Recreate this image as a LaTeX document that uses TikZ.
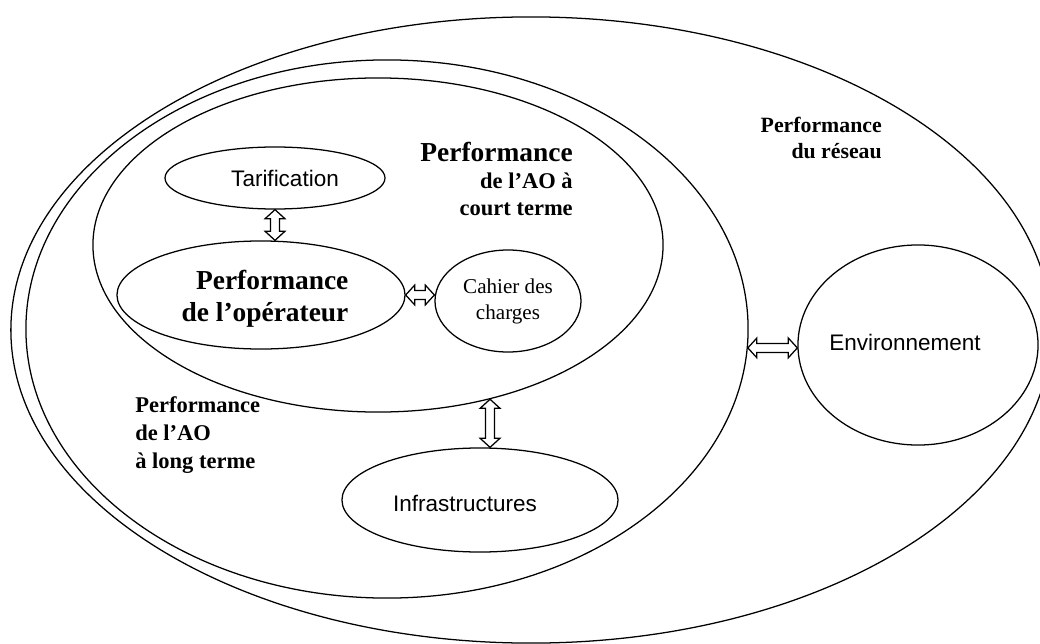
\documentclass[tikz,border=0pt]{standalone}
\usepackage{fontspec}
\setmainfont{Liberation Serif}
\newfontfamily\arialfont{Liberation Sans}
\usetikzlibrary{shapes.geometric,calc}
\newcommand{\arrhw}{7pt}
\newcommand{\arrsw}{3.2pt}
\newcommand{\arrhl}{6.4pt}
\tikzstyle{elli}=[ellipse, draw=black, line width=0.9pt, inner sep=0pt]
\tikzstyle{titre}=[font=\bfseries\fontsize{16}{19}\selectfont, inner sep=0pt]
\tikzstyle{sanslbl}=[font=\arialfont\fontsize{16}{19}\selectfont, inner sep=0pt]
\tikzstyle{seriflbl}=[font=\fontsize{15}{18.5}\selectfont, align=center, inner sep=0pt]
\tikzstyle{vblock}=[draw=black, fill=white, line width=0.9pt, to path={let \p1=(\tikztostart), \p2=(\tikztotarget) in
  (\x1,\y1) -- (\x1+\arrhw,\y1-\arrhl) -- (\x1+\arrsw,\y1-\arrhl) -- (\x1+\arrsw,\y2+\arrhl) -- (\x1+\arrhw,\y2+\arrhl) -- (\x1,\y2)
  -- (\x1-\arrhw,\y2+\arrhl) -- (\x1-\arrsw,\y2+\arrhl) -- (\x1-\arrsw,\y1-\arrhl) -- (\x1-\arrhw,\y1-\arrhl) -- cycle}]
\tikzstyle{hblock}=[draw=black, fill=white, line width=0.9pt, to path={let \p1=(\tikztostart), \p2=(\tikztotarget) in
  (\x1,\y1) -- (\x1+\arrhl,\y1+\arrhw) -- (\x1+\arrhl,\y1+\arrsw) -- (\x2-\arrhl,\y1+\arrsw) -- (\x2-\arrhl,\y1+\arrhw) -- (\x2,\y1)
  -- (\x2-\arrhl,\y1-\arrhw) -- (\x2-\arrhl,\y1-\arrsw) -- (\x1+\arrhl,\y1-\arrsw) -- (\x1+\arrhl,\y1-\arrhw) -- cycle}]

\begin{document}
\begin{tikzpicture}[x=0.025cm, y=-0.025cm]
\useasboundingbox (0,0) rectangle (1040,644);
% les ellipses
\node[elli, minimum width=26cm, minimum height=15.65cm] (reseau) at (531,330) {};
\node[elli, minimum width=18.05cm, minimum height=13.45cm] (longterme) at (387,329) {};
\node[elli, minimum width=14.25cm, minimum height=8.35cm] (courtterme) at (378,245) {};
\node[elli, minimum width=5.5cm, minimum height=1.55cm] (tarif) at (275,178) {};
\node[elli, minimum width=7.2cm, minimum height=2.7cm] (oper) at (261,295) {};
\node[elli, minimum width=3.65cm, minimum height=2.55cm] (cahier) at (508,301) {};
\node[elli, minimum width=6.9cm, minimum height=2.6cm] (infra) at (480,500) {};
\node[elli, minimum width=6cm, minimum height=5cm] (env) at (918,345) {};

% les textes
\node[titre, anchor=north east, align=right, font=\bfseries\fontsize{15.5}{18.4}\selectfont] (lreseau) at (882,117) {Performance\\du réseau};
\node[titre, anchor=north east, align=right] (lcourt) at (573,142) {{\fontsize{19.5}{19}\selectfont Performance}\\de l’AO à\\court terme};
\node[titre, anchor=north west, align=left, font=\bfseries\fontsize{16}{20}\selectfont] (llong) at (135,396) {Performance\\de l’AO\\à long terme};
\node[titre, align=right, font=\bfseries\fontsize{19.5}{22.7}\selectfont] (loper) at (265,299) {Performance\\de l’opérateur};
\node[sanslbl] (ltarif) at (285,178) {Tarification};
\node[seriflbl] (lcahier) at (508,301) {Cahier des\\charges};
\node[sanslbl] (linfra) at (465,503) {Infrastructures};
\node[sanslbl] (lenv) at (905,342) {Environnement};

% les fleches
\draw[vblock] (tarif.south) to (tarif.south |- oper.north);
\draw[hblock] (oper.east) to (oper.east -| cahier.west);
\draw[vblock] (courtterme.-54.5) to (courtterme.-54.5 |- infra.north);
\draw[hblock] (longterme.-3.7) to (longterme.-3.7 -| env.west);
\end{tikzpicture}
\end{document}
